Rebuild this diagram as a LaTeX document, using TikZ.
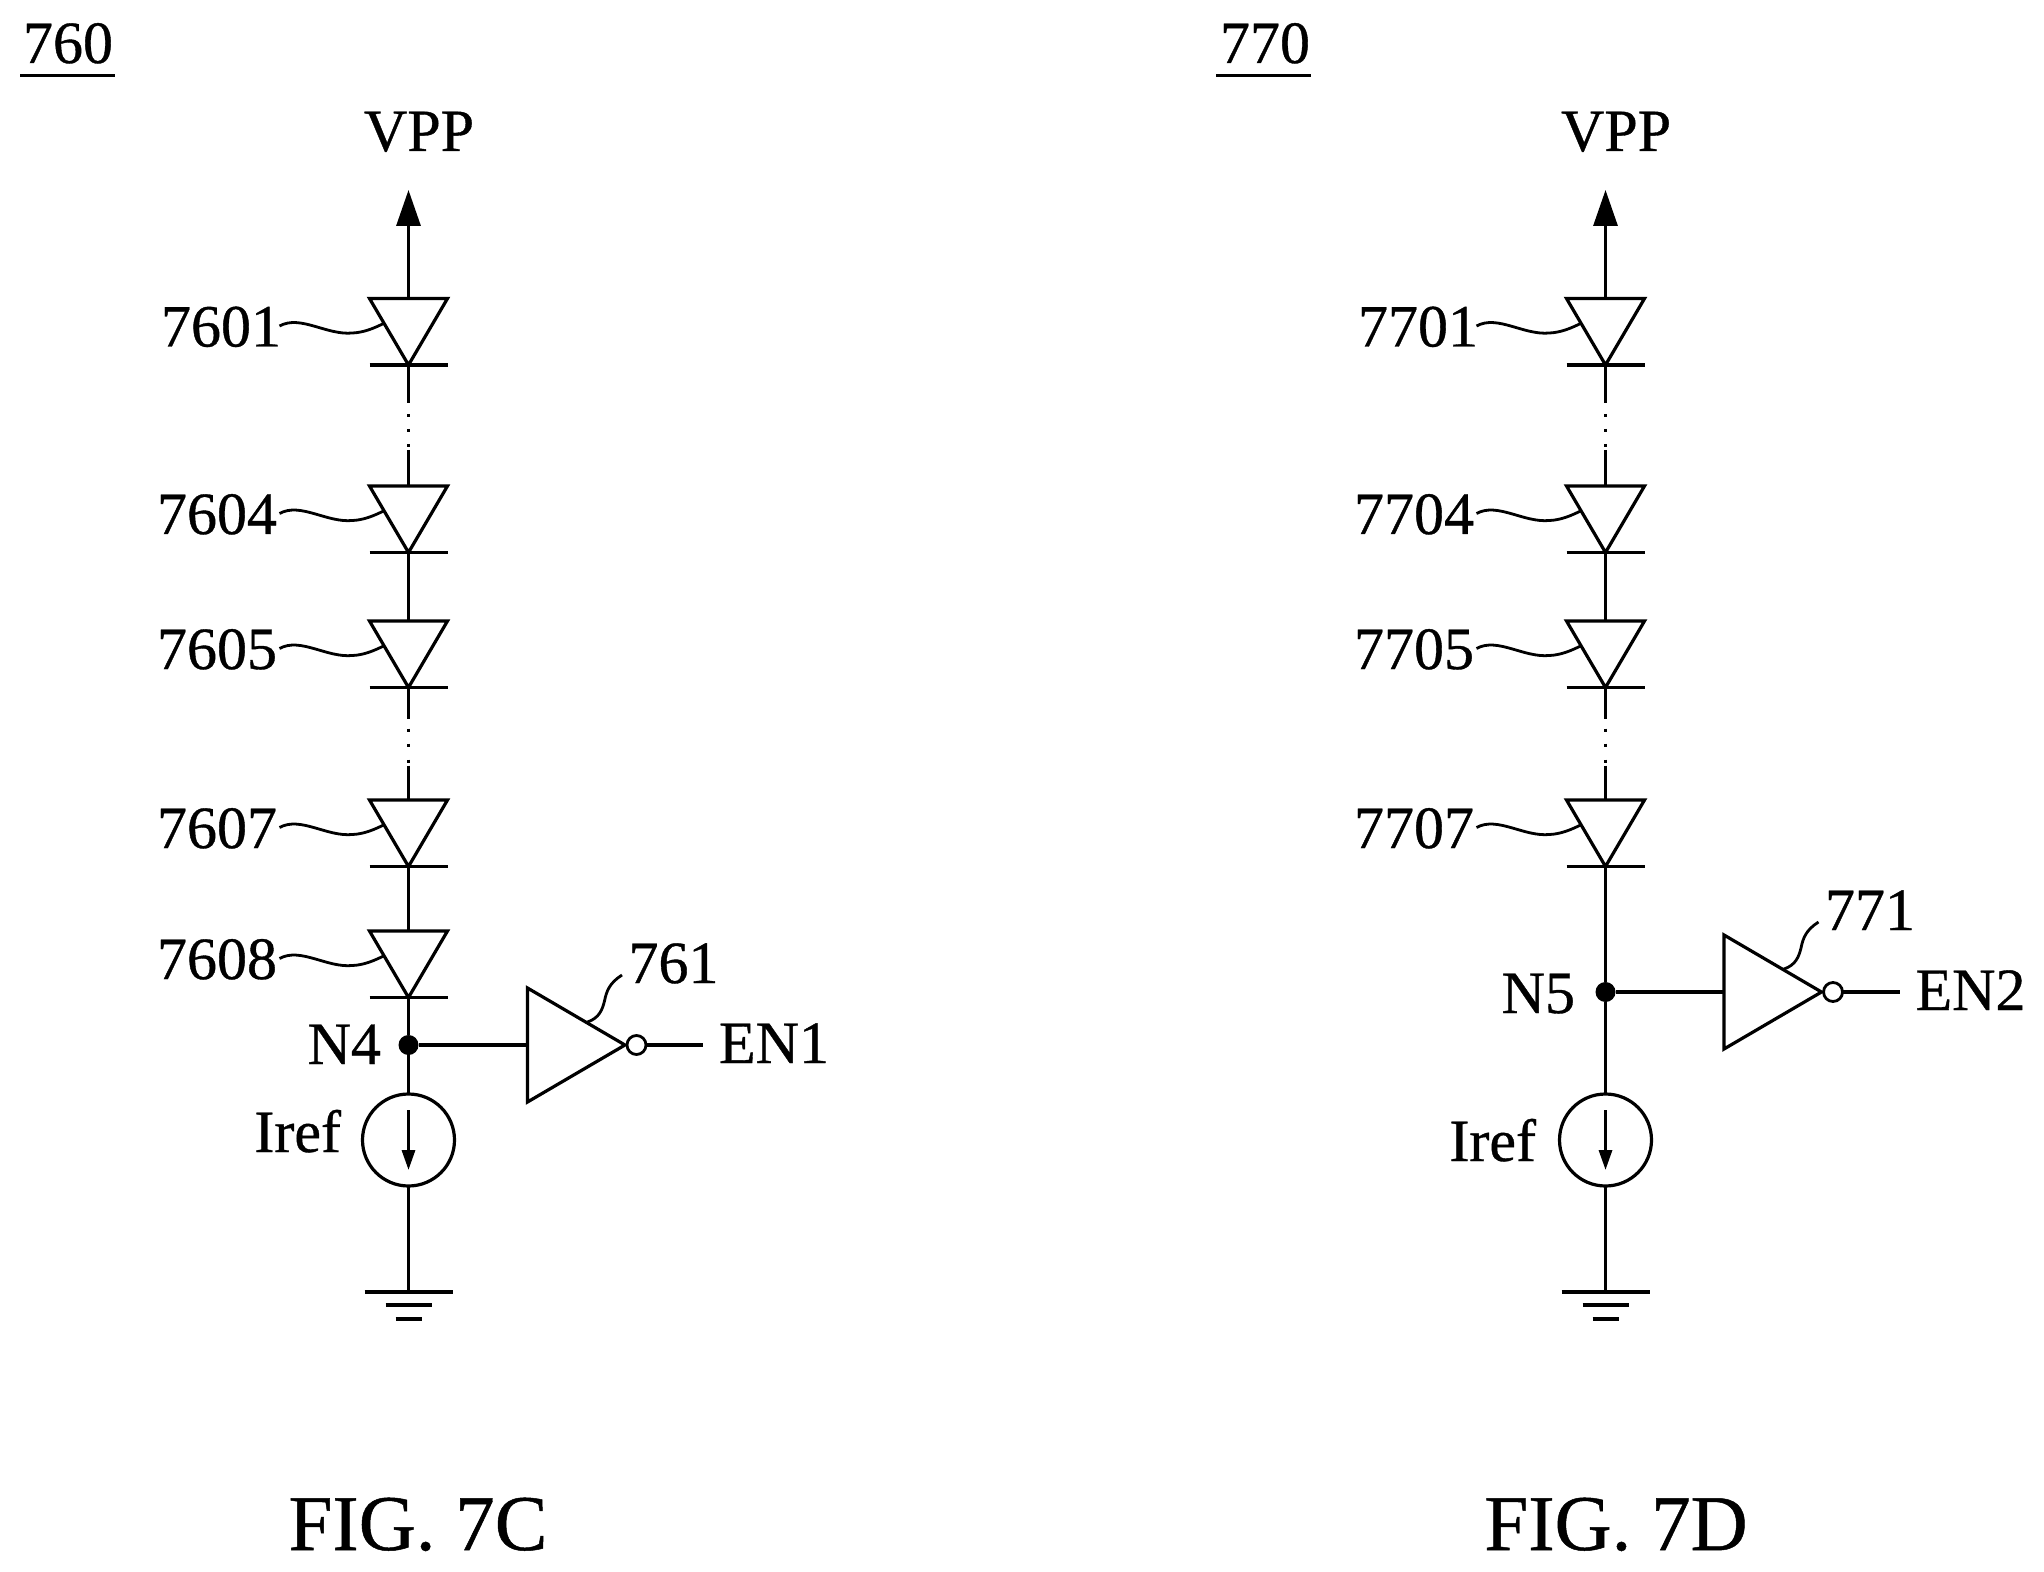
\documentclass[tikz,border=0pt]{standalone}
\usepackage{fontspec}
\setmainfont[RawFeature={embolden=0.6}]{Liberation Serif}
\usetikzlibrary{arrows.meta}
\tikzset{
  wire/.style={draw=black,line width=1.6pt,line join=miter},
  leader/.style={draw=black,line width=1.4pt},
  lab/.style={inner sep=0pt,outer sep=0pt,font=\fontsize{30}{36}\selectfont},
  figcaption/.style={inner sep=0pt,outer sep=0pt,font=\fontsize{39.5}{46}\selectfont},
  gapone/.style={wire,dash pattern=on 19pt off 5.5pt on 1.5pt off 6pt on 1.5pt off 6pt on 1.5pt off 1.5pt on 30pt},
  gaptwo/.style={wire,dash pattern=on 15.5pt off 5pt on 1.5pt off 6pt on 1.5pt off 6.5pt on 1.5pt off 1.5pt on 30pt},
  srcnode/.style={circle,draw=black,line width=1.6pt,minimum size=46pt,inner sep=0pt,outer sep=0pt},
  junction/.style={circle,fill=black,minimum size=10pt,inner sep=0pt,outer sep=0pt},
  bubble/.style={circle,draw=black,fill=white,line width=1.4pt,minimum size=9.5pt,inner sep=0pt,outer sep=0pt},
  bigtip/.style={-{Triangle[length=18pt,width=12pt]}},
  smalltip/.style={-{Triangle[length=10pt,width=6.5pt]}}
}
% name, axis x, top y, label, label right edge relative to axis
\newcommand{\diodeat}[5]{%
  \begin{scope}[shift={(#2,#3)}]
    \coordinate (#1t) at (0,0);
    \coordinate (#1b) at (0,66.5);
    \coordinate (#1s) at (-129,27.5);
    \coordinate (#1e) at (-25,25);
    \draw[wire] (-39,0) -- (39,0) -- (#1b) -- cycle;
    \draw[wire] (-39,66.5) -- (39,66.5);
    \node[lab,anchor=base east] (#1l) at (#5,48) {#4};
    \draw[leader] (#1s) .. controls (-108,16) and (-82,37) .. (-56,34.5)
      .. controls (-45,34) and (-35,30) .. (#1e);
  \end{scope}}
% name, left x, mid y, number label, output label
\newcommand{\inverterat}[5]{%
  \begin{scope}[shift={(#2,#3)}]
    \coordinate (#1in) at (0,0);
    \coordinate (#1out) at (175.5,0);
    \draw[wire] (0,-57) -- (97.5,0) -- (0,57) -- cycle;
    \node[bubble] (#1bub) at (109,0) {};
    \draw[wire] (#1bub.east) -- (#1out);
    \draw[leader] (60,-23) .. controls (72,-27) and (75,-36) .. (77,-44)
      .. controls (79,-54) and (82,-62) .. (94.5,-70);
    \node[lab,anchor=base west] (#1num) at (101,-62) {#4};
    \node[lab,anchor=base west] (#1en) at (191.5,18) {#5};
  \end{scope}}
% name, axis x, y
\newcommand{\groundat}[3]{%
  \begin{scope}[shift={(#2,#3)}]
    \coordinate (#1) at (0,0);
    \draw[wire] (-44,0) -- (44,0);
    \draw[wire] (-23,13) -- (23,13);
    \draw[wire,line width=2pt] (-13,27) -- (13,27);
  \end{scope}}
\begin{document}
\begin{tikzpicture}[x=0.5pt,y=-0.5pt]
\useasboundingbox (0,0) rectangle (2044,1572);
\fill[white] (0,0) rectangle (2044,1572);

% --- FIG. 7C ---
\node[lab,anchor=base west] (t760) at (23,63) {760};
\coordinate (u760a) at (20,75.5); \coordinate (u760b) at (115,75.5);
\draw[wire] (u760a) -- (u760b);
\node[lab,anchor=base west] (vppc) at (364,151) {VPP};
\coordinate (arrc) at (408.5,190);
\diodeat{ca}{408.5}{298.5}{7601}{-127.5}
\diodeat{cb}{408.5}{486}{7604}{-131.5}
\diodeat{cc}{408.5}{621}{7605}{-131.5}
\diodeat{cd}{408.5}{800}{7607}{-131.5}
\diodeat{ce}{408.5}{931}{7608}{-131.5}
\draw[wire,bigtip] (cat) -- (arrc);
\draw[gapone] (cab) -- (cbt);
\draw[wire] (cbb) -- (cct);
\draw[gaptwo] (ccb) -- (cdt);
\draw[wire] (cdb) -- (cet);
\node[junction] (n4) at (408.5,1045) {};
\node[lab,anchor=base east] (n4l) at (381,1064) {N4};
\node[srcnode] (srcc) at (408.5,1140) {};
\node[lab,anchor=base east] (irefc) at (341,1152) {Iref};
\coordinate (sctop) at (408.5,1110); \coordinate (scbot) at (408.5,1170);
\draw[wire,smalltip] (sctop) -- (scbot);
\groundat{gndc}{408.5}{1292}
\draw[wire] (ceb) -- (n4) -- (srcc.north);
\draw[wire] (srcc.south) -- (gndc);
\inverterat{ic}{527.5}{1045}{761}{EN1}
\draw[wire] (n4) -- (icin);
\node[figcaption,anchor=base] (figc) at (418,1550) {FIG. 7C};

% --- FIG. 7D ---
\node[lab,anchor=base west] (t770) at (1220,63) {770};
\coordinate (u770a) at (1216,75.5); \coordinate (u770b) at (1311,75.5);
\draw[wire] (u770a) -- (u770b);
\node[lab,anchor=base west] (vppd) at (1561,151) {VPP};
\coordinate (arrd) at (1605.5,190);
\diodeat{da}{1605.5}{298.5}{7701}{-127.5}
\diodeat{db}{1605.5}{486}{7704}{-131.5}
\diodeat{dc}{1605.5}{621}{7705}{-131.5}
\diodeat{dd}{1605.5}{800}{7707}{-131.5}
\draw[wire,bigtip] (dat) -- (arrd);
\draw[gapone] (dab) -- (dbt);
\draw[wire] (dbb) -- (dct);
\draw[gaptwo] (dcb) -- (ddt);
\node[junction] (n5) at (1605.5,992) {};
\node[lab,anchor=base east] (n5l) at (1575,1013) {N5};
\node[srcnode] (srcd) at (1605.5,1140) {};
\node[lab,anchor=base east] (irefd) at (1536,1161) {Iref};
\coordinate (sdtop) at (1605.5,1110); \coordinate (sdbot) at (1605.5,1170);
\draw[wire,smalltip] (sdtop) -- (sdbot);
\groundat{gndd}{1605.5}{1292}
\draw[wire] (ddb) -- (n5) -- (srcd.north);
\draw[wire] (srcd.south) -- (gndd);
\inverterat{id}{1724}{992}{771}{EN2}
\draw[wire] (n5) -- (idin);
\node[figcaption,anchor=base] (figd) at (1616,1550) {FIG. 7D};
\end{tikzpicture}
\end{document}
